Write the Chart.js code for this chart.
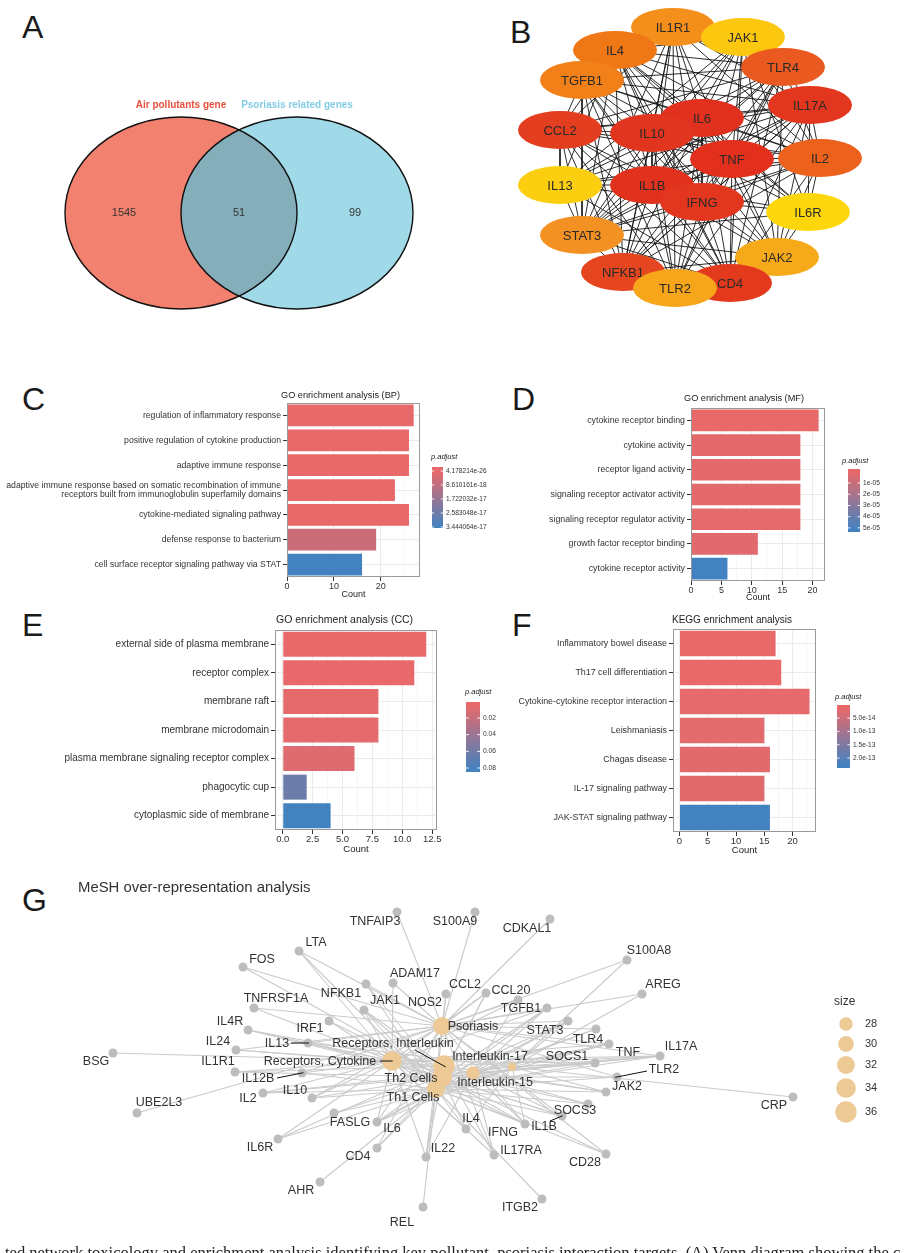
<!DOCTYPE html>
<html>
<head>
<meta charset="utf-8">
<script src="https://cdn.jsdelivr.net/npm/chart.js@4.4.1/dist/chart.umd.min.js"></script>
<style>
  html, body { margin: 0; padding: 0; background: #fff; }
  #pagina { position: relative; width: 905px; height: 1253px; overflow: hidden; font-family: "Liberation Sans", Arial, sans-serif; }
  .panel { position: absolute; }
  .letra { position: absolute; font-size: 32px; line-height: 32px; color: #1a1a1a; }
  #pie { position: absolute; left: 5px; top: 1245px; font-family: "Liberation Serif", "DejaVu Serif", serif; font-size: 16.5px; line-height: 16.5px; white-space: nowrap; color: #222; }
</style>
</head>
<body>
<div id="pagina">
  <div class="letra" style="left:22px;top:11px">A</div>
  <div class="letra" style="left:510px;top:16px">B</div>
  <div class="letra" style="left:22px;top:383px">C</div>
  <div class="letra" style="left:512px;top:383px">D</div>
  <div class="letra" style="left:22px;top:609px">E</div>
  <div class="letra" style="left:512px;top:609px">F</div>
  <div class="letra" style="left:22px;top:884px">G</div>

  <div class="panel" style="left:0;top:0;width:460px;height:340px"><canvas id="chVenn"></canvas></div>
  <div class="panel" style="left:460px;top:0;width:445px;height:340px"><canvas id="chRed"></canvas></div>
  <div class="panel" style="left:0;top:375px;width:505px;height:235px"><canvas id="chBP"></canvas></div>
  <div class="panel" style="left:460px;top:375px;width:445px;height:235px"><canvas id="chMF"></canvas></div>
  <div class="panel" style="left:0;top:605px;width:505px;height:255px"><canvas id="chCC"></canvas></div>
  <div class="panel" style="left:460px;top:605px;width:445px;height:255px"><canvas id="chKEGG"></canvas></div>
  <div class="panel" style="left:0;top:870px;width:905px;height:383px"><canvas id="chMesh"></canvas></div>

  <div id="pie">ted network toxicology and enrichment analysis identifying key pollutant–psoriasis interaction targets. (A) Venn diagram showing the c</div>
</div>

<script>
'use strict';

/* ---- A: Venn ---- */
var VENN_CONJUNTOS = ['Air pollutants gene', 'Psoriasis related genes'];
var VENN_CUENTAS = [1545, 51, 99]; // solo contaminantes, interseccion, solo psoriasis

/* ---- B: red PPI (posiciones del layout) ---- */
var PPI_NODOS = ['IL6', 'IL10', 'TNF', 'IL1B', 'IFNG', 'IL17A', 'CCL2', 'CD4', 'NFKB1', 'TLR4',
  'IL2', 'IL4', 'TGFB1', 'IL1R1', 'STAT3', 'JAK2', 'TLR2', 'JAK1', 'IL13', 'IL6R'];
var PPI_X = [702, 652, 732, 652, 702, 810, 560, 730, 623, 783, 820, 615, 582, 673, 582, 777, 675, 743, 560, 808];
var PPI_Y = [118, 133, 159, 185, 202, 105, 130, 283, 272, 67, 158, 50, 80, 27, 235, 257, 288, 37, 185, 212];
var PPI_COLOR = ['#e1301e', '#e2351f', '#e2301d', '#e2321d', '#e2361e', '#e2371e', '#e33e1f', '#e33a1e', '#e6461f', '#ea591f',
  '#ec611c', '#f07716', '#f18018', '#f58f1b', '#f39122', '#f6aa19', '#f7a51a', '#fcc80f', '#fbcf10', '#fdd70c'];
var PPI_ARISTAS = {
  IL6: 'IL10 TNF IL1B IFNG IL17A CCL2 CD4 NFKB1 TLR4 IL2 IL4 TGFB1 IL1R1 STAT3 JAK2 TLR2 JAK1 IL13 IL6R',
  IL10: 'TNF IL1B IFNG IL17A CCL2 CD4 NFKB1 TLR4 IL2 IL4 TGFB1 IL1R1 STAT3 JAK2 TLR2 JAK1 IL13 IL6R',
  TNF: 'IL1B IFNG IL17A CCL2 CD4 NFKB1 TLR4 IL2 IL4 TGFB1 IL1R1 STAT3 JAK2 TLR2 JAK1 IL13 IL6R',
  IL1B: 'IFNG IL17A CCL2 CD4 NFKB1 TLR4 IL2 IL4 TGFB1 IL1R1 STAT3 JAK2 TLR2 JAK1 IL13 IL6R',
  IFNG: 'IL17A CCL2 CD4 NFKB1 TLR4 IL2 IL4 TGFB1 IL1R1 STAT3 JAK2 TLR2 JAK1 IL13 IL6R',
  IL17A: 'CCL2 CD4 NFKB1 TLR4 IL2 IL4 TGFB1 IL1R1 STAT3 TLR2 IL13 IL6R JAK2',
  CCL2: 'CD4 NFKB1 TLR4 IL2 IL4 TGFB1 IL1R1 STAT3 TLR2 IL13',
  CD4: 'NFKB1 TLR4 IL2 IL4 TGFB1 STAT3 JAK2 TLR2 IL13 JAK1',
  NFKB1: 'TLR4 IL2 IL4 TGFB1 IL1R1 STAT3 TLR2 JAK2',
  TLR4: 'IL2 IL4 TGFB1 STAT3 TLR2 JAK2',
  IL2: 'IL4 TGFB1 IL1R1 STAT3 JAK2 JAK1 IL13 IL6R',
  IL4: 'TGFB1 STAT3 JAK2 JAK1 IL13 IL6R',
  TGFB1: 'STAT3 IL1R1 TLR2',
  IL1R1: 'STAT3 TLR2',
  STAT3: 'JAK2 JAK1 IL13 IL6R',
  JAK2: 'JAK1 IL6R TLR2',
  JAK1: 'IL6R IL13'
};
// orden de dibujo de las elipses (las ultimas quedan encima)
var PPI_ORDEN = ['IL1R1', 'JAK1', 'IL4', 'TGFB1', 'TLR4', 'IL17A', 'CCL2', 'IL2', 'IL13', 'IL6R',
  'STAT3', 'JAK2', 'NFKB1', 'CD4', 'TLR2', 'IL6', 'IL10', 'TNF', 'IL1B', 'IFNG'];

/* ---- C: GO BP ---- */
var BP_TERMINOS = ['regulation of inflammatory response', 'positive regulation of cytokine production', 'adaptive immune response',
  ['adaptive immune response based on somatic recombination of immune', 'receptors built from immunoglobulin superfamily domains'],
  'cytokine-mediated signaling pathway', 'defense response to bacterium', 'cell surface receptor signaling pathway via STAT'];
var BP_COUNT = [27, 26, 26, 23, 26, 19, 16];
var BP_PADJ = [4.178214e-26, 1.2e-25, 2.1e-24, 3.3e-21, 6.5e-20, 6.0e-18, 3.444064e-17];
var BP_LEY = [4.178214e-26, 8.610161e-18, 1.722032e-17, 2.583048e-17, 3.444064e-17];
var BP_LEY_TXT = ['4.178214e-26', '8.610161e-18', '1.722032e-17', '2.583048e-17', '3.444064e-17'];

/* ---- D: GO MF ---- */
var MF_TERMINOS = ['cytokine receptor binding', 'cytokine activity', 'receptor ligand activity', 'signaling receptor activator activity',
  'signaling receptor regulator activity', 'growth factor receptor binding', 'cytokine receptor activity'];
var MF_COUNT = [21, 18, 18, 18, 18, 11, 6];
var MF_PADJ = [1.8e-7, 9.6e-7, 9.6e-7, 9.6e-7, 1.3e-6, 2.6e-6, 5.1e-5];
var MF_LEY = [1e-5, 2e-5, 3e-5, 4e-5, 5e-5];
var MF_LEY_TXT = ['1e-05', '2e-05', '3e-05', '4e-05', '5e-05'];

/* ---- E: GO CC ---- */
var CC_TERMINOS = ['external side of plasma membrane', 'receptor complex', 'membrane raft', 'membrane microdomain',
  'plasma membrane signaling receptor complex', 'phagocytic cup', 'cytoplasmic side of membrane'];
var CC_COUNT = [12, 11, 8, 8, 6, 2, 4];
var CC_PADJ = [0.0044, 0.0049, 0.0061, 0.0061, 0.0093, 0.062, 0.0812];
var CC_LEY = [0.02, 0.04, 0.06, 0.08];
var CC_LEY_TXT = ['0.02', '0.04', '0.06', '0.08'];

/* ---- F: KEGG ---- */
var KEGG_TERMINOS = ['Inflammatory bowel disease', 'Th17 cell differentiation', 'Cytokine-cytokine receptor interaction',
  'Leishmaniasis', 'Chagas disease', 'IL-17 signaling pathway', 'JAK-STAT signaling pathway'];
var KEGG_COUNT = [17, 18, 23, 15, 16, 15, 16];
var KEGG_PADJ = [1.24e-14, 1.3e-14, 1.5e-14, 1.9e-14, 2.0e-14, 2.1e-14, 2.26e-13];
var KEGG_LEY = [5e-14, 1e-13, 1.5e-13, 2e-13];
var KEGG_LEY_TXT = ['5.0e-14', '1.0e-13', '1.5e-13', '2.0e-13'];

/* ---- G: MeSH cnetplot ---- */
var MESH_CATS = ['Psoriasis', 'Receptors, Cytokine', 'Receptors, Interleukin', 'Th2 Cells', 'Th1 Cells', 'Interleukin-17', 'Interleukin-15'];
var MESH_CLAVES = ['P', 'RC', 'RI', 'T2', 'T1', 'I17', 'I15'];
var MESH_TAM = [32, 34, 36, 34, 32, 28, 25];
var MESH_CAT_X = [442, 392, 444, 442, 436, 473, 512];
var MESH_CAT_Y = [1026, 1061, 1066, 1077, 1089, 1073, 1067];
var MESH_GENES = ['TNFAIP3', 'S100A9', 'CDKAL1', 'LTA', 'FOS', 'S100A8', 'ADAM17', 'NOS2', 'CCL2', 'CCL20',
  'NFKB1', 'JAK1', 'TGFB1', 'AREG', 'TNFRSF1A', 'IRF1', 'IL4R', 'IL13', 'IL24', 'BSG',
  'IL1R1', 'IL12B', 'STAT3', 'TLR4', 'TNF', 'IL17A', 'SOCS1', 'TLR2', 'JAK2', 'CRP',
  'SOCS3', 'IL1B', 'IFNG', 'IL4', 'IL17RA', 'CD28', 'ITGB2', 'IL2', 'IL10', 'UBE2L3',
  'FASLG', 'IL6', 'IL6R', 'CD4', 'IL22', 'AHR', 'REL'];
var MESH_GX = [397, 475, 550, 299, 243, 627, 393, 446, 486, 518,
  366, 364, 547, 642, 254, 329, 248, 308, 236, 113,
  235, 302, 568, 596, 609, 660, 595, 617, 606, 793,
  588, 562, 525, 466, 494, 606, 542, 263, 312, 137,
  334, 377, 278, 377, 426, 320, 423];
var MESH_GY = [912, 912, 919, 951, 967, 960, 983, 994, 993, 1000,
  984, 1010, 1008, 994, 1008, 1021, 1030, 1043, 1050, 1053,
  1072, 1073, 1021, 1029, 1044, 1056, 1063, 1077, 1092, 1097,
  1104, 1116, 1124, 1129, 1155, 1154, 1199, 1093, 1098, 1113,
  1113, 1122, 1139, 1148, 1157, 1182, 1207];
var MESH_ENLACES = ['P', 'P', 'P', 'P T1 RC', 'P T2', 'P I15', 'P RC', 'P T1', 'P T1 T2 RC', 'P I17 RC',
  'P T1 T2', 'RC RI T2 T1', 'P T1 T2 RC I17', 'P I15', 'P RC', 'T1 T2', 'RC RI T2', 'P RC T2 I15', 'P RC RI', 'RC',
  'RC RI T2', 'RC T1 P', 'P T1 T2 I17 I15', 'P T1 I17', 'P RC T1 T2 I17 I15', 'P RC RI T1 T2 I17 I15', 'RC T1 T2 I15', 'P T1 T2', 'RC RI T1 I15', 'I15',
  'RC T1 I17', 'P RC T1 T2 I17', 'P RC T1 T2 I17 I15', 'RC T1 T2 I15', 'P RC RI I17', 'P T1 T2', 'T1', 'RC T1 T2 I15', 'P RC T1 T2', 'P',
  'T1 T2', 'P RC T1 T2 I17 I15', 'RC RI T1', 'P T1 T2', 'P RC T1 T2 I17', 'T1', 'T1'];
var MESH_LEY_TAM = [28, 30, 32, 34, 36];

/* ---------------- estilo ---------------- */
var FUENTE = '"Liberation Sans", Arial, Helvetica, sans-serif';
var ROJO = [232, 105, 106];
var AZUL = [67, 130, 192];

Chart.defaults.font.family = FUENTE;
Chart.defaults.animation = false;
Chart.defaults.plugins.legend.display = false;
Chart.defaults.plugins.tooltip.enabled = false;

function mezcla(t) {
  t = Math.max(0, Math.min(1, t));
  var c = ROJO.map(function (r, i) { return Math.round(r + (AZUL[i] - r) * t); });
  return 'rgb(' + c.join(',') + ')';
}

function ejesOcultos(x0, x1, y0, y1) {
  return {
    x: { type: 'linear', display: false, min: x0, max: x1 },
    y: { type: 'linear', display: false, min: y0, max: y1, reverse: true }
  };
}

/* ---------------- A ---------------- */
function venn() {
  var geo = { cx: [181, 297], cy: 213, rx: 116, ry: 96, numX: [124, 239, 355] };
  new Chart(document.getElementById('chVenn'), {
    type: 'scatter',
    data: { datasets: [{ data: VENN_CUENTAS.map(function (n, i) { return { x: geo.numX[i], y: geo.cy }; }), pointRadius: 0 }] },
    options: { responsive: true, maintainAspectRatio: false, events: [], layout: { padding: 0, autoPadding: false }, scales: ejesOcultos(0, 460, 0, 340) },
    plugins: [{
      id: 'vennDib',
      beforeDatasetsDraw: function (chart) {
        var ctx = chart.ctx, sx = chart.scales.x, sy = chart.scales.y;
        var k = sx.getPixelForValue(1) - sx.getPixelForValue(0);
        var el = function (i) {
          ctx.beginPath();
          ctx.ellipse(sx.getPixelForValue(geo.cx[i]), sy.getPixelForValue(geo.cy), geo.rx * k, geo.ry * k, 0, 0, Math.PI * 2);
        };
        ctx.save();
        el(0); ctx.fillStyle = '#f3816f'; ctx.fill();
        el(1); ctx.fillStyle = '#a0d9e8'; ctx.fill();
        ctx.save(); el(0); ctx.clip(); el(1); ctx.fillStyle = '#84aeba'; ctx.fill(); ctx.restore();
        ctx.lineWidth = 1.4; ctx.strokeStyle = '#111';
        el(0); ctx.stroke(); el(1); ctx.stroke();
        ctx.restore();
      },
      afterDatasetsDraw: function (chart) {
        var ctx = chart.ctx, pts = chart.getDatasetMeta(0).data;
        ctx.save();
        ctx.textAlign = 'center'; ctx.textBaseline = 'middle';
        ctx.font = '11px ' + FUENTE; ctx.fillStyle = '#333';
        VENN_CUENTAS.forEach(function (n, i) { ctx.fillText(String(n), pts[i].x, pts[i].y); });
        ctx.font = 'bold 10px ' + FUENTE;
        ctx.fillStyle = '#e8503c'; ctx.fillText(VENN_CONJUNTOS[0], chart.scales.x.getPixelForValue(181), chart.scales.y.getPixelForValue(105));
        ctx.fillStyle = '#82cde4'; ctx.fillText(VENN_CONJUNTOS[1], chart.scales.x.getPixelForValue(297), chart.scales.y.getPixelForValue(105));
        ctx.restore();
      }
    }]
  });
}

/* ---------------- B ---------------- */
function red() {
  var idx = {};
  PPI_NODOS.forEach(function (n, i) { idx[n] = i; });
  var datasets = [];
  Object.keys(PPI_ARISTAS).forEach(function (a) {
    PPI_ARISTAS[a].split(' ').forEach(function (b) {
      var i = idx[a], j = idx[b];
      datasets.push({
        data: [{ x: PPI_X[i], y: PPI_Y[i] }, { x: PPI_X[j], y: PPI_Y[j] }],
        showLine: true, borderColor: '#151515', borderWidth: 0.9, pointRadius: 0
      });
    });
  });
  new Chart(document.getElementById('chRed'), {
    type: 'scatter',
    data: { datasets: datasets },
    options: { responsive: true, maintainAspectRatio: false, events: [], layout: { padding: 0, autoPadding: false }, scales: ejesOcultos(460, 905, 0, 340) },
    plugins: [{
      id: 'elipses',
      afterDatasetsDraw: function (chart) {
        var ctx = chart.ctx, sx = chart.scales.x, sy = chart.scales.y;
        var k = sx.getPixelForValue(1) - sx.getPixelForValue(0);
        ctx.save();
        ctx.textAlign = 'center'; ctx.textBaseline = 'middle';
        ctx.font = '13px ' + FUENTE;
        PPI_ORDEN.forEach(function (n) {
          var i = idx[n], x = sx.getPixelForValue(PPI_X[i]), y = sy.getPixelForValue(PPI_Y[i]);
          ctx.beginPath();
          ctx.ellipse(x, y, 42 * k, 19 * k, 0, 0, Math.PI * 2);
          ctx.fillStyle = PPI_COLOR[i]; ctx.fill();
          ctx.fillStyle = '#2a2a2a';
          ctx.fillText(n, x, y + 1);
        });
        ctx.restore();
      }
    }]
  });
}

/* ---------------- C-F ---------------- */
function barras(p) {
  var L = p.area.l - p.pos.l, T = p.area.t - p.pos.t, R = p.area.r - p.pos.l, B = p.area.b - p.pos.t;
  var lo = Math.min.apply(null, p.padj), hi = Math.max.apply(null, p.padj);
  var colores = p.padj.map(function (v) { return mezcla((v - lo) / (hi - lo)); });
  var esMayor = function (v) { var q = v / p.mayor; return Math.abs(q - Math.round(q)) < 1e-6; };
  var lh = p.fx * 1.2;
  new Chart(document.getElementById(p.id), {
    type: 'bar',
    data: { labels: p.terminos, datasets: [{ data: p.counts, backgroundColor: colores, barPercentage: 0.875, categoryPercentage: 1, borderWidth: 0 }] },
    options: {
      indexAxis: 'y', responsive: true, maintainAspectRatio: false, events: [],
      layout: { padding: { left: 0, top: T, right: p.pos.w - R, bottom: 0 }, autoPadding: false },
      scales: {
        x: {
          type: 'linear', min: p.xMin, max: p.xMax,
          border: { display: false },
          grid: {
            color: function (c) { return c.tick && esMayor(c.tick.value) ? '#ebebeb' : '#f6f6f6'; },
            tickColor: function (c) { return c.tick && esMayor(c.tick.value) ? '#333' : 'rgba(0,0,0,0)'; },
            tickLength: 4
          },
          ticks: {
            stepSize: p.mayor / 2, includeBounds: false, autoSkip: false, maxRotation: 0, padding: 0,
            color: '#333', font: { size: p.fx },
            callback: function (v) { return esMayor(v) ? p.fmt(v) : ''; }
          },
          title: { display: true, text: 'Count', color: '#222', font: { size: p.fx }, padding: { top: 0, bottom: (p.pos.h - (p.countY - p.pos.t)) - lh / 2 } },
          afterFit: function (s) { s.height = p.pos.h - B; }
        },
        y: {
          offset: true,
          border: { display: false },
          grid: { offset: false, color: '#ebebeb', tickColor: '#333', tickLength: 4 },
          ticks: { autoSkip: false, padding: 2, color: '#333', font: { size: p.fy, lineHeight: 1.1 } },
          afterFit: function (s) { s.width = L; }
        }
      }
    },
    plugins: [{
      id: 'marco',
      afterDatasetsDraw: function (chart) {
        var ctx = chart.ctx, a = chart.chartArea;
        ctx.save();
        ctx.strokeStyle = '#9a9a9a'; ctx.lineWidth = 1;
        ctx.strokeRect(a.left + 0.5, a.top + 0.5, a.right - a.left - 1, a.bottom - a.top - 1);
        ctx.restore();
      },
      afterDraw: function (chart) {
        var ctx = chart.ctx, g = p.ley;
        var ox = p.pos.l, oy = p.pos.t;
        ctx.save();
        ctx.textBaseline = 'middle'; ctx.textAlign = 'left';
        ctx.fillStyle = '#222';
        ctx.font = p.ft + 'px ' + FUENTE;
        ctx.fillText(p.titulo, p.tituloX - ox, p.tituloY - oy);
        // barra de color p.adjust
        var bx = g.bx - ox, by = g.by - oy;
        var y0 = by + g.inset[0], y1 = by + g.bh - g.inset[1];
        var grad = ctx.createLinearGradient(0, y0, 0, y1);
        for (var s = 0; s <= 10; s++) grad.addColorStop(s / 10, mezcla(s / 10));
        ctx.fillStyle = grad;
        ctx.fillRect(bx, by, g.bw, g.bh);
        ctx.font = 'italic 7.5px ' + FUENTE; ctx.fillStyle = '#222';
        ctx.fillText('p.adjust', g.tx - ox, g.ty - oy);
        ctx.font = '6.6px ' + FUENTE; ctx.fillStyle = '#333';
        ctx.strokeStyle = 'rgba(255,255,255,0.9)'; ctx.lineWidth = 1;
        g.valores.forEach(function (v, i) {
          var y = y0 + (v - lo) / (hi - lo) * (y1 - y0);
          ctx.beginPath();
          ctx.moveTo(bx, y); ctx.lineTo(bx + g.bw * 0.2, y);
          ctx.moveTo(bx + g.bw * 0.8, y); ctx.lineTo(bx + g.bw, y);
          ctx.stroke();
          ctx.fillText(g.textos[i], bx + g.bw + 3, y);
        });
        ctx.restore();
      }
    }]
  });
}

/* ---------------- G ---------------- */
function radioTam(s) { return Math.sqrt(Math.max(4, 44.9 + 8.7 * (s - 28))); }

function mesh() {
  // desplazamiento de cada etiqueta respecto a su nodo (estilo, al modo ggrepel)
  var ETIQ = {
    TNFAIP3: [-22, 10], S100A9: [-20, 10], CDKAL1: [-23, 10], LTA: [17, -8], FOS: [19, -7], S100A8: [22, -9],
    ADAM17: [22, -9], NOS2: [-21, 9], CCL2: [-21, -8], CCL20: [-7, -9], NFKB1: [-25, 10], JAK1: [21, -9],
    TGFB1: [-26, 1], AREG: [21, -9], TNFRSF1A: [22, -9], IRF1: [-19, 8], IL4R: [-18, -8], IL13: [-31, 1],
    IL24: [-18, -8], BSG: [-17, 9], IL1R1: [-17, -10], IL12B: [-44, 6], STAT3: [-23, 10], TLR4: [-8, 11],
    TNF: [19, 9], IL17A: [21, -9], SOCS1: [-28, -6], TLR2: [47, -7], JAK2: [21, -5], CRP: [-19, 9],
    SOCS3: [-13, 7], IL1B: [-18, 11], IFNG: [-22, 9], IL4: [5, -10], IL17RA: [27, -4], CD28: [-21, 9],
    ITGB2: [-22, 9], IL2: [-15, 6], IL10: [-17, -7], UBE2L3: [22, -10], FASLG: [16, 10], IL6: [15, 7],
    IL6R: [-18, 9], CD4: [-19, 9], IL22: [17, -8], AHR: [-19, 9], REL: [-21, 16],
    'Psoriasis': [31, 1], 'Receptors, Cytokine': [-72, 1], 'Receptors, Interleukin': [-51, -22],
    'Th2 Cells': [-31, 2], 'Th1 Cells': [-23, 9], 'Interleukin-17': [17, -16], 'Interleukin-15': [-17, 16]
  };
  // segmentos guia: [etiqueta, inicio relativo al nodo]
  var GUIAS = [['IL13', [-17, 0]], ['Receptors, Cytokine', [-12, 0]], ['IL12B', [-25, 5]],
    ['Receptors, Interleukin', [-29, -16]], ['TLR2', [30, -6]], ['IL1B', [-12, 5]]];

  var datasets = [];
  var nodos = { data: [], pointRadius: [], pointBackgroundColor: [], pointBorderWidth: 0, showLine: false };
  MESH_GENES.forEach(function (g, i) {
    nodos.data.push({ x: MESH_GX[i], y: MESH_GY[i], n: g });
    nodos.pointRadius.push(4.5);
    nodos.pointBackgroundColor.push('#bdbdbd');
  });
  MESH_CATS.forEach(function (c, i) {
    nodos.data.push({ x: MESH_CAT_X[i], y: MESH_CAT_Y[i], n: c });
    nodos.pointRadius.push(radioTam(MESH_TAM[i]));
    nodos.pointBackgroundColor.push('#ecc995');
  });
  datasets.push(nodos);
  MESH_GENES.forEach(function (g, i) {
    MESH_ENLACES[i].split(' ').forEach(function (k) {
      var c = MESH_CLAVES.indexOf(k);
      datasets.push({
        data: [{ x: MESH_GX[i], y: MESH_GY[i] }, { x: MESH_CAT_X[c], y: MESH_CAT_Y[c] }],
        showLine: true, borderColor: '#cacaca', borderWidth: 1.1, pointRadius: 0
      });
    });
  });

  new Chart(document.getElementById('chMesh'), {
    type: 'scatter',
    data: { datasets: datasets },
    options: { responsive: true, maintainAspectRatio: false, events: [], layout: { padding: 0, autoPadding: false }, scales: ejesOcultos(0, 905, 870, 1253) },
    plugins: [{
      id: 'etiquetas',
      afterDatasetsDraw: function (chart) {
        var ctx = chart.ctx, pts = chart.getDatasetMeta(0).data, sx = chart.scales.x, sy = chart.scales.y;
        var pos = {};
        nodos.data.forEach(function (d, i) { pos[d.n] = pts[i]; });
        ctx.save();
        ctx.strokeStyle = '#111'; ctx.lineWidth = 1;
        GUIAS.forEach(function (gd) {
          var p = pos[gd[0]];
          ctx.beginPath();
          ctx.moveTo(p.x + gd[1][0], p.y + gd[1][1]);
          ctx.lineTo(p.x - gd[1][0] * 0.06, p.y - gd[1][1] * 0.06);
          ctx.stroke();
        });
        ctx.textAlign = 'center'; ctx.textBaseline = 'middle';
        ctx.font = '12.5px ' + FUENTE; ctx.fillStyle = '#333';
        nodos.data.forEach(function (d) {
          var p = pos[d.n], o = ETIQ[d.n] || [0, 0];
          ctx.fillText(d.n, p.x + o[0], p.y + o[1]);
        });
        // titulo
        ctx.textAlign = 'left';
        ctx.font = '14.9px ' + FUENTE; ctx.fillStyle = '#333';
        ctx.fillText('MeSH over-representation analysis', sx.getPixelForValue(78), sy.getPixelForValue(888));
        // leyenda de tamano
        ctx.font = '12px ' + FUENTE;
        ctx.fillText('size', sx.getPixelForValue(834), sy.getPixelForValue(1002));
        var ly = [1024, 1044, 1065, 1088, 1112];
        ctx.font = '11px ' + FUENTE;
        MESH_LEY_TAM.forEach(function (t, i) {
          var x = sx.getPixelForValue(846), y = sy.getPixelForValue(ly[i]);
          ctx.beginPath(); ctx.arc(x, y, radioTam(t), 0, Math.PI * 2);
          ctx.fillStyle = '#ecc995'; ctx.fill();
          ctx.fillStyle = '#333';
          ctx.fillText(String(t), x + 19, y);
        });
        ctx.restore();
      }
    }]
  });
}

venn();
red();
barras({
  id: 'chBP', terminos: BP_TERMINOS, counts: BP_COUNT, padj: BP_PADJ,
  pos: { l: 0, t: 375, w: 505, h: 235 }, area: { l: 287, t: 403, r: 420, b: 577 },
  xMin: 0, xMax: 28.35, mayor: 10, fmt: function (v) { return String(v); },
  fx: 9, fy: 8.7, ft: 9.2, titulo: 'GO enrichment analysis (BP)', tituloX: 281, tituloY: 395, countY: 595,
  ley: { tx: 431, ty: 457, bx: 432, by: 467, bw: 11, bh: 61, inset: [4, 1], valores: BP_LEY, textos: BP_LEY_TXT }
});
barras({
  id: 'chMF', terminos: MF_TERMINOS, counts: MF_COUNT, padj: MF_PADJ,
  pos: { l: 460, t: 375, w: 445, h: 235 }, area: { l: 691, t: 408, r: 825, b: 581 },
  xMin: 0, xMax: 22.05, mayor: 5, fmt: function (v) { return String(v); },
  fx: 9, fy: 8.8, ft: 9.2, titulo: 'GO enrichment analysis (MF)', tituloX: 684, tituloY: 398, countY: 598,
  ley: { tx: 842, ty: 461, bx: 848, by: 469, bw: 12, bh: 63, inset: [3, 3], valores: MF_LEY, textos: MF_LEY_TXT }
});
barras({
  id: 'chCC', terminos: CC_TERMINOS, counts: CC_COUNT, padj: CC_PADJ,
  pos: { l: 0, t: 605, w: 505, h: 255 }, area: { l: 275, t: 630, r: 437, b: 830 },
  xMin: -0.65, xMax: 12.9, mayor: 2.5, fmt: function (v) { return v.toFixed(1); },
  fx: 9.5, fy: 10, ft: 10.5, titulo: 'GO enrichment analysis (CC)', tituloX: 276, tituloY: 620, countY: 849,
  ley: { tx: 465, ty: 692, bx: 466, by: 702, bw: 14, bh: 70, inset: [3, 3], valores: CC_LEY, textos: CC_LEY_TXT }
});
barras({
  id: 'chKEGG', terminos: KEGG_TERMINOS, counts: KEGG_COUNT, padj: KEGG_PADJ,
  pos: { l: 460, t: 605, w: 445, h: 255 }, area: { l: 673, t: 629, r: 816, b: 832 },
  xMin: -1.15, xMax: 24.15, mayor: 5, fmt: function (v) { return String(v); },
  fx: 9.5, fy: 8.9, ft: 10, titulo: 'KEGG enrichment analysis', tituloX: 672, tituloY: 620, countY: 850,
  ley: { tx: 835, ty: 697, bx: 837, by: 705, bw: 13, bh: 63, inset: [3, 3], valores: KEGG_LEY, textos: KEGG_LEY_TXT }
});
mesh();
</script>
</body>
</html>
